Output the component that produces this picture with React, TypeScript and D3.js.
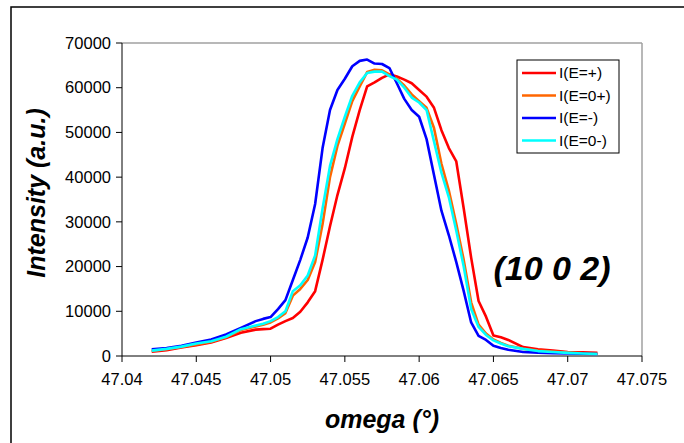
import React from "react";
import * as d3 from "d3";

const omega = [
  47.042, 47.043, 47.044, 47.045, 47.046, 47.047, 47.048, 47.049, 47.0495, 47.05,
  47.0505, 47.051, 47.0515, 47.052, 47.0525, 47.053, 47.0535, 47.054, 47.0545, 47.055,
  47.0555, 47.056, 47.0565, 47.057, 47.0575, 47.058, 47.0585, 47.059, 47.0595, 47.06,
  47.0605, 47.061, 47.0615, 47.062, 47.0625, 47.063, 47.0635, 47.064, 47.0645, 47.065,
  47.0655, 47.066, 47.067, 47.068, 47.069, 47.07, 47.071, 47.072,
];

const iPlus = [
  950, 1300, 1900, 2400, 3000, 4000, 5200, 5900, 6000, 6100,
  7000, 7800, 8500, 9900, 12000, 14500, 21500, 29000, 36000, 42000,
  49000, 55000, 60300, 61200, 62200, 63000, 62500, 61800, 61000, 59500,
  58000, 55500, 50500, 46500, 43500, 33000, 22000, 12300, 8800, 4600,
  4200, 3600, 2000, 1500, 1200, 900, 800, 700,
];

const iZeroPlus = [
  1100, 1500, 2000, 2600, 3200, 4200, 5800, 6600, 7000, 7500,
  8400, 9600, 13500, 15000, 17000, 21000, 29500, 40000, 47000, 52000,
  57000, 60300, 63500, 64000, 63900, 63000, 62000, 60500, 58500, 57000,
  55500, 51000, 43000, 37000, 29500, 21500, 12000, 7000, 5000, 3700,
  2900, 2300, 1600, 1200, 1000, 800, 600, 500,
];

const iMinus = [
  1500, 1800, 2300, 3000, 3700, 4800, 6300, 7800, 8300, 8700,
  10500, 12500, 17000, 21500, 26500, 34000, 46500, 55000, 59500, 62000,
  64800, 66000, 66300, 65400, 65300, 64400, 61000, 57500, 55000, 53500,
  48500, 40500, 32500, 27000, 21000, 14500, 7500, 4500, 3600, 2300,
  1800, 1400, 900, 750, 650, 550, 500, 450,
];

const iZeroMinus = [
  1200, 1600, 2100, 2800, 3300, 4300, 6000, 6800, 7200, 7800,
  8700, 10000, 14500, 15800, 18000, 22500, 33000, 42500, 48500, 53500,
  58200, 61200, 63300, 63600, 63600, 62600, 61800, 60000, 57800, 56700,
  55000, 48000, 41000, 35500, 28000, 20000, 10500, 6500, 4700, 3500,
  2800, 2200, 1600, 1100, 900, 700, 550, 450,
];

const seriesNames = ["I(E=+)", "I(E=0+)", "I(E=-)", "I(E=0-)"];
const seriesValues = [iPlus, iZeroPlus, iMinus, iZeroMinus];
const seriesColors = ["#FF0000", "#FF6600", "#0000FF", "#00FFFF"];

const xTicks = [47.04, 47.045, 47.05, 47.055, 47.06, 47.065, 47.07, 47.075];
const yTicks = [0, 10000, 20000, 30000, 40000, 50000, 60000, 70000];

export default function App() {
  const left = 122, right = 642, top = 43, bottom = 356;
  const x = d3.scaleLinear().domain([47.04, 47.075]).range([left, right]);
  const y = d3.scaleLinear().domain([0, 70000]).range([bottom, top]);
  const line = d3
    .line<number>()
    .x((_, i) => x(omega[i]))
    .y((d) => y(d));
  const font = "Arial, 'Liberation Sans', sans-serif";

  return (
    <svg
      width={684}
      height={443}
      style={{ position: "absolute", left: 0, top: 0, background: "#fff" }}
      fontFamily={font}
    >
      <rect x={0} y={0} width={684} height={443} fill="#fff" />
      <rect x={11} y={7} width={700} height={460} fill="none" stroke="#000" strokeWidth={1.5} />
      {/* plot area border */}
      <line x1={left} y1={top} x2={right} y2={top} stroke="#a0a0a0" strokeWidth={1.5} />
      <line x1={right} y1={top} x2={right} y2={bottom} stroke="#a0a0a0" strokeWidth={1.5} />
      {/* axes */}
      <line x1={left} y1={top} x2={left} y2={bottom} stroke="#000" strokeWidth={1} />
      <line x1={left} y1={bottom} x2={right} y2={bottom} stroke="#000" strokeWidth={1} />
      {yTicks.map((t) => (
        <g key={"y" + t}>
          <line x1={left - 6} x2={left} y1={y(t)} y2={y(t)} stroke="#000" />
          <text x={left - 11} y={y(t)} dy="0.35em" textAnchor="end" fontSize={16.5}>
            {t}
          </text>
        </g>
      ))}
      {xTicks.map((t) => (
        <g key={"x" + t}>
          <line x1={x(t)} x2={x(t)} y1={bottom} y2={bottom + 6} stroke="#000" />
          <text x={x(t)} y={bottom + 29} textAnchor="middle" fontSize={16.5}>
            {d3.format("")(+t.toFixed(3))}
          </text>
        </g>
      ))}
      {seriesValues.map((vals, i) => (
        <path
          key={seriesNames[i]}
          d={line(vals) || ""}
          fill="none"
          stroke={seriesColors[i]}
          strokeWidth={2.6}
          strokeLinejoin="round"
        />
      ))}
      {/* legend */}
      <rect x={517} y={60} width={102} height={93} fill="#fff" stroke="#000" strokeWidth={1} />
      {seriesNames.map((n, i) => (
        <g key={"l" + n}>
          <line
            x1={522}
            x2={556}
            y1={73 + i * 22.5}
            y2={73 + i * 22.5}
            stroke={seriesColors[i]}
            strokeWidth={2.6}
          />
          <text x={559} y={73 + i * 22.5} dy="0.35em" fontSize={15.5}>
            {n}
          </text>
        </g>
      ))}
      <text
        x={552}
        y={280}
        textAnchor="middle"
        fontSize={34}
        fontWeight="bold"
        fontStyle="italic"
      >
        (10 0 2)
      </text>
      <text
        transform="translate(45,193) rotate(-90)"
        textAnchor="middle"
        fontSize={25}
        fontWeight="bold"
        fontStyle="italic"
      >
        Intensity (a.u.)
      </text>
      <text
        x={382}
        y={428}
        textAnchor="middle"
        fontSize={25}
        fontWeight="bold"
        fontStyle="italic"
      >
        omega (°)
      </text>
    </svg>
  );
}
